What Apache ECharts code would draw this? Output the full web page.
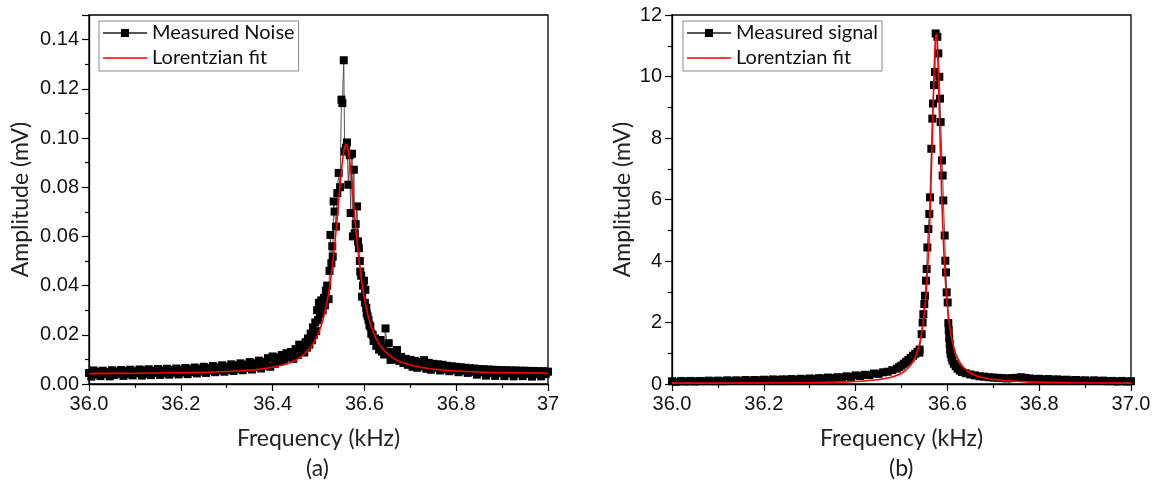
<!DOCTYPE html>
<html>
<head>
<meta charset="utf-8">
<script src="https://cdn.jsdelivr.net/npm/echarts@6/dist/echarts.min.js"></script>
<style>html,body{margin:0;padding:0;background:#fff;}#c{width:1154px;height:491px;}</style>
</head>
<body>
<div id="c"></div>
<script>
// ---------- Panel (a): measured noise ----------
const noiseFreq = [36.000,36.005,36.010,36.015,36.020,36.025,36.030,36.035,36.040,36.045,36.050,36.055,36.060,36.065,36.070,36.075,36.080,36.085,36.090,36.095,36.100,36.105,36.110,36.115,36.120,36.125,36.130,36.135,36.140,36.145,36.150,36.155,36.160,36.165,36.170,36.175,36.180,36.185,36.190,36.195,36.200,36.205,36.210,36.215,36.220,36.225,36.230,36.235,36.240,36.245,36.250,36.255,36.260,36.265,36.270,36.275,36.280,36.285,36.290,36.295,36.300,36.305,36.310,36.315,36.320,36.325,36.330,36.335,36.340,36.345,36.350,36.355,36.360,36.365,36.370,36.375,36.380,36.385,36.390,36.395,36.400,36.405,36.410,36.415,36.420,36.425,36.430,
36.435,36.440,36.445,36.450,36.455,36.458,36.461,36.466,36.469,36.472,36.475,36.477,36.480,36.483,36.486,36.488,36.490,36.493,36.495,36.497,36.499,36.501,36.503,36.506,36.509,36.512,36.514,36.516,36.519,36.522,36.524,36.526,36.528,36.530,36.531,36.533,36.535,36.538,36.541,36.544,36.547,36.550,36.552,36.555,36.557,36.560,36.562,36.565,36.568,36.570,36.573,36.575,36.577,36.579,36.581,36.584,36.586,36.588,36.590,36.591,36.593,36.595,36.597,36.599,36.601,36.602,36.604,36.605,36.607,36.609,36.611,36.613,36.615,36.618,36.620,36.623,36.626,36.629,36.632,36.635,36.638,36.640,36.643,36.646,36.650,36.653,36.657,36.660,36.662,36.666,36.669,36.671,36.674,36.676,
36.680,36.685,36.690,36.695,36.700,36.705,36.710,36.715,36.720,36.725,36.730,36.735,36.740,36.745,36.750,36.755,36.760,36.765,36.770,36.775,36.780,36.785,36.790,36.795,36.800,36.805,36.810,36.815,36.820,36.825,36.830,36.835,36.840,36.845,36.850,36.855,36.860,36.865,36.870,36.875,36.880,36.885,36.890,36.895,36.900,36.905,36.910,36.915,36.920,36.925,36.930,36.935,36.940,36.945,36.950,36.955,36.960,36.965,36.970,36.975,36.980,36.985,36.990,36.995,37.000];
const noiseAmp = [0.0045,0.0030,0.0055,0.0038,0.0050,0.0032,0.0054,0.0041,0.0048,0.0031,0.0056,0.0036,0.0051,0.0042,0.0057,0.0033,0.0053,0.0040,0.0058,0.0035,0.0052,0.0044,0.0059,0.0034,0.0055,0.0041,0.0060,0.0036,0.0054,0.0045,0.0061,0.0037,0.0056,0.0043,0.0062,0.0038,0.0057,0.0046,0.0063,0.0039,0.0058,0.0047,0.0065,0.0040,0.0060,0.0049,0.0067,0.0043,0.0062,0.0051,0.0070,0.0045,0.0065,0.0053,0.0073,0.0048,0.0068,0.0056,0.0076,0.0050,0.0071,0.0058,0.0080,0.0053,0.0075,0.0061,0.0084,0.0056,0.0079,0.0065,0.0089,0.0059,0.0084,0.0069,0.0095,0.0063,0.0090,0.0074,0.0105,0.0070,0.0112,0.0082,0.0108,0.0090,0.0118,0.0096,0.0125,
0.0108,0.0130,0.0102,0.0142,0.0118,0.0160,0.0136,0.0152,0.0128,0.0170,0.0148,0.0185,0.0160,0.0205,0.0178,0.0230,0.0200,0.0250,0.0215,0.0300,0.0260,0.0330,0.0285,0.0340,0.0300,0.0350,0.0320,0.0380,0.0400,0.0345,0.0460,0.0606,0.0491,0.0560,0.0518,0.0742,0.0701,0.0640,0.0776,0.0858,0.0800,0.1156,0.1142,0.1316,0.0945,0.0960,0.0982,0.0810,0.0930,0.0695,0.0936,0.0600,0.0871,0.0613,0.0650,0.0722,0.0580,0.0552,0.0500,0.0457,0.0440,0.0355,0.0400,0.0420,0.0330,0.0383,0.0310,0.0288,0.0275,0.0260,0.0240,0.0233,0.0205,0.0200,0.0175,0.0185,0.0155,0.0165,0.0140,0.0179,0.0132,0.0148,0.0120,0.0226,0.0128,0.0166,0.0098,0.0130,0.0112,0.0104,0.0125,0.0138,0.0100,0.0094,
0.0110,0.0085,0.0102,0.0078,0.0098,0.0070,0.0094,0.0066,0.0090,0.0072,0.0097,0.0062,0.0086,0.0058,0.0082,0.0066,0.0080,0.0055,0.0078,0.0060,0.0074,0.0052,0.0072,0.0058,0.0070,0.0048,0.0068,0.0054,0.0066,0.0045,0.0064,0.0050,0.0063,0.0038,0.0061,0.0047,0.0060,0.0034,0.0059,0.0045,0.0058,0.0033,0.0057,0.0044,0.0056,0.0032,0.0056,0.0043,0.0055,0.0031,0.0055,0.0042,0.0054,0.0032,0.0054,0.0041,0.0053,0.0030,0.0053,0.0040,0.0052,0.0031,0.0052,0.0040,0.0050];
const fitAFreq = [36.00,36.10,36.20,36.26,36.31,36.36,36.41,36.44,36.46,36.48,36.49,36.50,36.51,36.52,36.525,36.53,36.535,36.54,36.545,36.55,36.555,36.56,36.565,36.57,36.575,36.58,36.585,36.59,36.595,36.60,36.61,36.62,36.63,36.64,36.66,36.68,36.71,36.76,36.81,36.86,36.92,37.00];
const fitAAmp = [0.0042,0.0044,0.0046,0.0048,0.0052,0.0058,0.0072,0.0088,0.0108,0.0142,0.0169,0.0207,0.0263,0.0347,0.0405,0.0475,0.0560,0.0659,0.0767,0.0869,0.0946,0.0975,0.0946,0.0869,0.0767,0.0659,0.0560,0.0475,0.0405,0.0347,0.0263,0.0207,0.0169,0.0142,0.0108,0.0088,0.0072,0.0058,0.0052,0.0048,0.0046,0.0044];
const xTickLabelsA = ['36.0','36.2','36.4','36.6','36.8','37'];
const yTickLabelsA = ['0.00','0.02','0.04','0.06','0.08','0.10','0.12','0.14'];

// ---------- Panel (b): measured signal ----------
const sigFreq = [36.00,36.01,36.02,36.03,36.04,36.05,36.06,36.07,36.08,36.09,36.10,36.11,36.12,36.13,36.14,36.15,36.16,36.17,36.18,36.19,36.20,36.21,36.22,36.23,36.24,36.25,36.26,36.27,36.28,36.29,36.30,36.31,36.32,36.33,36.34,36.35,36.36,36.37,36.38,36.39,36.40,36.41,36.42,36.43,36.44,36.45,36.46,36.47,36.48,36.49,36.495,36.50,36.505,36.51,36.515,36.52,36.525,36.53,36.535,36.5388,36.5395,36.5439,36.5461,36.5476,36.5497,36.5512,36.5534,36.5548,36.5563,36.5585,36.5606,36.5621,36.5650,36.5672,36.5686,36.5708,36.5730,36.5744,36.5781,36.5802,36.5824,36.5839,36.5853,36.5882,36.5897,36.5911,36.5941,36.5955,36.5969,36.5984,36.6006,36.6020,36.6030,36.6040,36.6050,36.606,36.607,36.609,36.611,36.614,36.618,36.622,36.627,36.632,36.64,36.65,36.66,36.67,36.68,36.69,36.70,36.71,36.72,36.73,36.74,36.75,36.76,36.77,36.78,36.79,36.80,36.81,36.82,36.83,36.84,36.85,36.86,36.87,36.88,36.89,36.90,36.91,36.92,36.93,36.94,36.95,36.96,36.97,36.98,36.99,37.00];
const sigAmp = [0.09,0.07,0.10,0.08,0.10,0.08,0.10,0.09,0.11,0.09,0.11,0.09,0.12,0.10,0.12,0.10,0.13,0.11,0.13,0.12,0.14,0.12,0.15,0.13,0.15,0.14,0.16,0.14,0.17,0.15,0.18,0.16,0.19,0.18,0.21,0.19,0.22,0.21,0.25,0.23,0.28,0.26,0.30,0.29,0.34,0.33,0.38,0.40,0.45,0.50,0.55,0.60,0.66,0.72,0.78,0.85,0.92,0.98,1.05,1.02,1.12,1.62,2.00,2.27,2.60,2.87,3.36,3.74,4.44,5.04,5.53,6.07,7.65,8.63,9.12,9.72,10.15,11.40,11.29,10.75,9.99,9.28,8.52,7.27,6.78,5.97,4.83,4.01,3.63,2.98,2.65,1.98,1.75,1.50,1.30,1.12,0.98,0.86,0.76,0.66,0.58,0.50,0.44,0.39,0.35,0.31,0.28,0.25,0.24,0.22,0.21,0.20,0.19,0.18,0.19,0.20,0.22,0.20,0.18,0.16,0.17,0.15,0.16,0.14,0.15,0.13,0.14,0.12,0.13,0.11,0.12,0.10,0.12,0.10,0.11,0.09,0.10,0.08,0.10,0.08,0.09];
const fitBFreq = [36.00,36.10,36.28,36.38,36.435,36.475,36.50,36.515,36.5255,36.5335,36.5395,36.5435,36.5475,36.5515,36.5555,36.5575,36.5595,36.5615,36.5635,36.5655,36.5675,36.5695,36.5715,36.5735,36.5755,36.5775,36.5795,36.5815,36.5835,36.5855,36.5875,36.5895,36.5915,36.5935,36.5955,36.5995,36.6035,36.6075,36.6115,36.6175,36.6255,36.6355,36.6505,36.6755,36.7155,36.7755,36.8755,37.00];
const fitBAmp = [0.03,0.03,0.04,0.07,0.12,0.21,0.35,0.53,0.74,1.01,1.33,1.63,2.03,2.60,3.39,3.91,4.54,5.28,6.15,7.16,8.26,9.39,10.40,11.12,11.38,11.12,10.40,9.39,8.26,7.16,6.15,5.28,4.54,3.91,3.39,2.60,2.03,1.63,1.33,1.01,0.74,0.53,0.35,0.21,0.12,0.07,0.04,0.03];
const xTickLabelsB = ['36.0','36.2','36.4','36.6','36.8','37.0'];
const yTickLabelsB = ['0','2','4','6','8','10','12'];

const pairs = (xs, ys) => xs.map((x, i) => [x, ys[i]]);

const TICK_FONT = 'Liberation Sans';
const TITLE_FONT = 'Lato';
const FIT_ICON = 'path://M0,0H44V1.6H0Z';

function xAxisCfg(gi, labels) {
  return {
    type: 'value', gridIndex: gi, min: 36, max: 37, interval: 0.2,
    name: 'Frequency (kHz)', nameLocation: 'middle', nameGap: 43,
    nameTextStyle: { fontFamily: TITLE_FONT, fontSize: 23, color: '#222' },
    axisLine: { show: true, onZero: false, lineStyle: { color: '#000', width: 1.3 } },
    axisTick: { show: true, inside: false, length: 7, lineStyle: { color: '#000', width: 1.2 } },
    minorTick: { show: true, splitNumber: 2, length: 4, lineStyle: { color: '#000', width: 1.2 } },
    splitLine: { show: false },
    axisLabel: { margin: 10, fontFamily: TICK_FONT, fontSize: 20, color: '#111',
      formatter: (v, i) => labels[i] !== undefined ? labels[i] : '' }
  };
}
function yAxisCfg(gi, max, interval, labels, gap) {
  return {
    type: 'value', gridIndex: gi, min: 0, max: max, interval: interval,
    name: 'Amplitude (mV)', nameLocation: 'middle', nameGap: gap,
    nameTextStyle: { fontFamily: TITLE_FONT, fontSize: 23, color: '#222' },
    axisLine: { show: true, onZero: false, lineStyle: { color: '#000', width: 1.3 } },
    axisTick: { show: true, inside: false, length: 7, lineStyle: { color: '#000', width: 1.2 } },
    minorTick: { show: true, splitNumber: 2, length: 4, lineStyle: { color: '#000', width: 1.2 } },
    splitLine: { show: false },
    axisLabel: { margin: 10, fontFamily: TICK_FONT, fontSize: 20, color: '#111',
      formatter: (v, i) => labels[i] !== undefined ? labels[i] : '' }
  };
}
function legendCfg(left, measuredName) {
  return {
    data: [measuredName, { name: 'Lorentzian fit', icon: FIT_ICON }],
    left: left, top: 21, orient: 'vertical',
    itemWidth: 44, itemHeight: 10, itemGap: 5, itemTextGap: 5,
    padding: [2, 4, 3, 3],
    borderColor: '#888', borderWidth: 1, backgroundColor: '#fff',
    textStyle: { fontFamily: TITLE_FONT, fontSize: 20, color: '#111', lineHeight: 20 }
  };
}
function measured(name, xi, data) {
  return {
    name: name, type: 'line', xAxisIndex: xi, yAxisIndex: xi, data: data,
    symbol: 'rect', symbolSize: 8, showAllSymbol: true,
    itemStyle: { color: '#000' },
    lineStyle: { color: '#555', width: 1 },
    emphasis: { disabled: true }, z: 2
  };
}
function fit(xi, data) {
  return {
    name: 'Lorentzian fit', type: 'line', xAxisIndex: xi, yAxisIndex: xi, data: data,
    symbol: 'none', smooth: 0.3, itemStyle: { color: '#ff0000' },
    lineStyle: { color: '#ff0000', width: 1.6 }, emphasis: { disabled: true }, z: 3
  };
}

const chart = echarts.init(document.getElementById('c'), null, { renderer: 'canvas' });
chart.setOption({
  animation: false,
  backgroundColor: '#fff',
  grid: [
    { left: 89, right: 1154 - 548, top: 15, bottom: 491 - 384, show: true, borderColor: '#000', borderWidth: 1.3 },
    { left: 672, right: 1154 - 1131, top: 15, bottom: 491 - 384, show: true, borderColor: '#000', borderWidth: 1.3 }
  ],
  xAxis: [xAxisCfg(0, xTickLabelsA), xAxisCfg(1, xTickLabelsB)],
  yAxis: [yAxisCfg(0, 0.15, 0.02, yTickLabelsA, 57), yAxisCfg(1, 12, 2, yTickLabelsB, 38)],
  legend: [
    legendCfg(99, 'Measured Noise'),
    legendCfg(683, 'Measured signal')
  ],
  series: [
    measured('Measured Noise', 0, pairs(noiseFreq, noiseAmp)),
    fit(0, pairs(fitAFreq, fitAAmp)),
    measured('Measured signal', 1, pairs(sigFreq, sigAmp)),
    fit(1, pairs(fitBFreq, fitBAmp))
  ],
  graphic: [
    { type: 'text', left: 318 - 12, top: 457, style: { text: '(a)', font: '23px Lato', fill: '#222' } },
    { type: 'text', left: 901 - 12, top: 457, style: { text: '(b)', font: '23px Lato', fill: '#222' } }
  ]
});
</script>
</body>
</html>
